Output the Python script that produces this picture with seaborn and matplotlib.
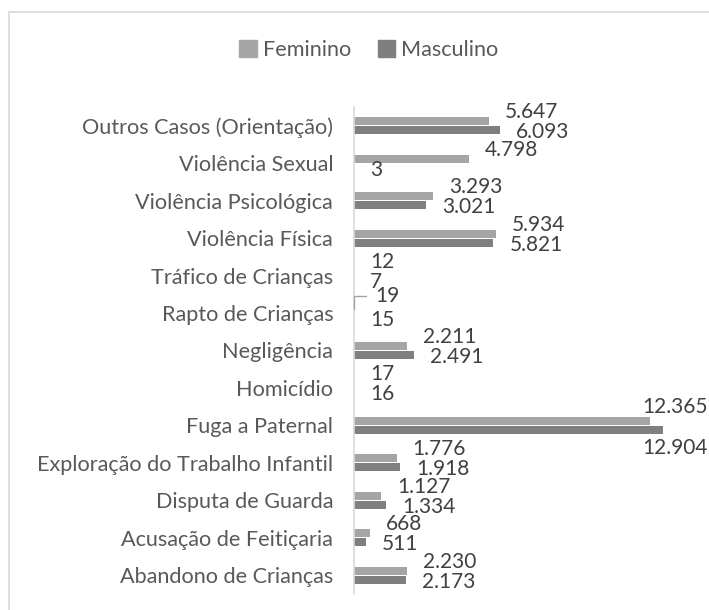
import seaborn as sns
import matplotlib.pyplot as plt
import pandas as pd
from matplotlib.patches import Rectangle

# data
categories = [
    "Outros Casos (Orientação)", "Violência Sexual", "Violência Psicológica",
    "Violência Física", "Tráfico de Crianças", "Rapto de Crianças",
    "Negligência", "Homicídio", "Fuga a Paternal",
    "Exploração do Trabalho Infantil", "Disputa de Guarda",
    "Acusação de Feitiçaria", "Abandono de Crianças",
]
feminino = [5647, 4798, 3293, 5934, 12, 19, 2211, 17, 12365, 1776, 1127, 668, 2230]
masculino = [6093, 3, 3021, 5821, 7, 15, 2491, 16, 12904, 1918, 1334, 511, 2173]
series = ["Feminino", "Masculino"]
colors = ["#A5A5A5", "#7F7F7F"]

df = pd.DataFrame({
    "categoria": categories * 2,
    "sexo": ["Feminino"] * len(categories) + ["Masculino"] * len(categories),
    "casos": feminino + masculino,
})

sns.set_style("white")
plt.rcParams["font.family"] = ["Lato", "DejaVu Sans"]

W, H = 709, 610
fig = plt.figure(figsize=(W / 100, H / 100), dpi=100)
ax = fig.add_axes([354 / W, 1 - 594 / H, (700 - 354) / W, (594 - 107) / H])

sns.barplot(data=df, y="categoria", x="casos", hue="sexo", order=categories,
            hue_order=series, palette=colors, width=0.48, gap=0.1,
            orient="h", ax=ax, legend=False, edgecolor="none")

ax.set_xlim(0, 14450)
ax.set_ylim(len(categories) - 0.5, -0.5)
ax.set_xlabel("")
ax.set_ylabel("")
ax.set_xticks([])
ax.tick_params(axis="y", length=0, pad=15, labelsize=15.6, labelcolor="#595959")
for s in ["top", "right", "bottom"]:
    ax.spines[s].set_visible(False)
ax.spines["left"].set_color("#D9D9D9")
ax.spines["left"].set_linewidth(1.2)

# value labels, Portuguese thousands separator
fmt = lambda v: f"{v:,}".replace(",", ".")
dys = {"Feminino": 9, "Masculino": -2}
labels = []
for cont, name, vals in zip(ax.containers, series, [feminino, masculino]):
    for bar, v in zip(cont, vals):
        yc = bar.get_y() + bar.get_height() / 2
        t = ax.annotate(fmt(v), xy=(bar.get_width(), yc),
                        xytext=(16, dys[name]), textcoords="offset pixels",
                        ha="left", va="center", fontsize=15, color="#404040")
        labels.append((t, name, bar))

# Rapto de Crianças: small leader line for the female value
rapto = categories.index("Rapto de Crianças")
for t, name, bar in labels:
    if name == "Feminino" and bar is ax.containers[0][rapto]:
        t.xyann = (21, 13)
        ax.annotate("", xy=(bar.get_width(), bar.get_y() + bar.get_height() / 2),
                    xytext=(12, 13), textcoords="offset pixels",
                    arrowprops=dict(arrowstyle="-", color="#A6A6A6", lw=1,
                                    connectionstyle="angle,angleA=0,angleB=90",
                                    shrinkA=0, shrinkB=0))

# keep labels inside the chart area (Fuga a Paternal)
fig.canvas.draw()
for t, name, bar in labels:
    bb = t.get_window_extent()
    if bb.x1 > W - 1:
        dx, dy = t.xyann
        t.xyann = (dx - (bb.x1 - (W - 1)), dy + (5 if name == "Feminino" else -16))

# legend
handles = [Rectangle((0, 0), 1, 1, color=c) for c in colors]
fig.legend(handles, series, loc="center", bbox_to_anchor=(369 / W, 1 - 50 / H),
           ncol=2, frameon=False, fontsize=15.6, labelcolor="#595959",
           handlelength=0.8, handleheight=0.8, handletextpad=0.3,
           columnspacing=1.2)

# chart area border
fig.add_artist(Rectangle((9 / W, -0.1), 1.2, 1.1 - 12 / H, transform=fig.transFigure,
                         fill=False, ec="#D9D9D9", lw=1.2))

fig.savefig("out.png", dpi=100)
